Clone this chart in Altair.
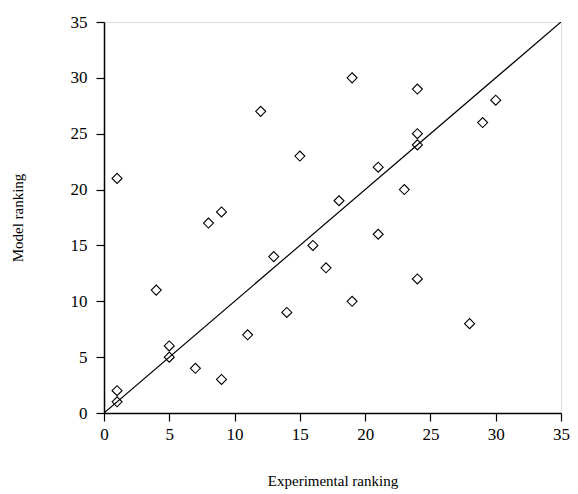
import altair as alt
import pandas as pd

exp_rank = [1, 1, 1, 4, 5, 5, 7, 8, 9, 9, 11, 12, 13, 14, 15, 16, 17, 18, 19, 19,
            21, 21, 23, 24, 24, 24, 24, 28, 29, 30]
model_rank = [21, 2, 1, 11, 6, 5, 4, 17, 18, 3, 7, 27, 14, 9, 23, 15, 13, 19, 30, 10,
              22, 16, 20, 29, 25, 24, 12, 8, 26, 28]
diag_x = [0, 35]
diag_y = [0, 35]
x_ticks = [0, 5, 10, 15, 20, 25, 30, 35]
y_ticks = [0, 5, 10, 15, 20, 25, 30, 35]

pts = pd.DataFrame({"x": exp_rank, "y": model_rank})
line_df = pd.DataFrame({"x": diag_x, "y": diag_y})

FONT = "Liberation Serif"

xscale = alt.Scale(domain=[0, 35], nice=False, zero=True)
yscale = alt.Scale(domain=[0, 35], nice=False, zero=True)

xaxis = alt.Axis(values=x_ticks, title="Experimental ranking", grid=False,
                 domainColor="black", domainWidth=1.5, tickColor="black", tickSize=8,
                 tickWidth=1.2, labelColor="black", labelFont=FONT, labelFontSize=17,
                 labelPadding=5, labelFlush=False, titleFont=FONT, titleFontSize=15,
                 titleFontWeight="normal", titleColor="black", titlePadding=31)
yaxis = alt.Axis(values=y_ticks, title="Model ranking", grid=False,
                 domainColor="black", domainWidth=1.5, tickColor="black", tickSize=8,
                 tickWidth=1.2, labelColor="black", labelFont=FONT, labelFontSize=17,
                 labelPadding=9, labelFlush=False, titleFont=FONT, titleFontSize=15,
                 titleFontWeight="normal", titleColor="black", titlePadding=45)

line = alt.Chart(line_df).mark_line(color="black", strokeWidth=1.2, clip=True).encode(
    x=alt.X("x:Q", scale=xscale, axis=xaxis),
    y=alt.Y("y:Q", scale=yscale, axis=yaxis),
)

points = alt.Chart(pts).mark_point(shape="diamond", size=100, filled=False,
                                   color="black", strokeWidth=1.1, opacity=1).encode(
    x=alt.X("x:Q", scale=xscale),
    y=alt.Y("y:Q", scale=yscale),
)

chart = alt.layer(line, points).properties(
    width=457, height=391,
    autosize=alt.AutoSizeParams(type="none"),
    padding={"left": 96, "top": 14, "right": 9, "bottom": 78},
).configure_view(stroke="black", strokeWidth=1.5).configure(background="white")

chart.save("out.html", embed_options={"renderer": "svg", "actions": False})
